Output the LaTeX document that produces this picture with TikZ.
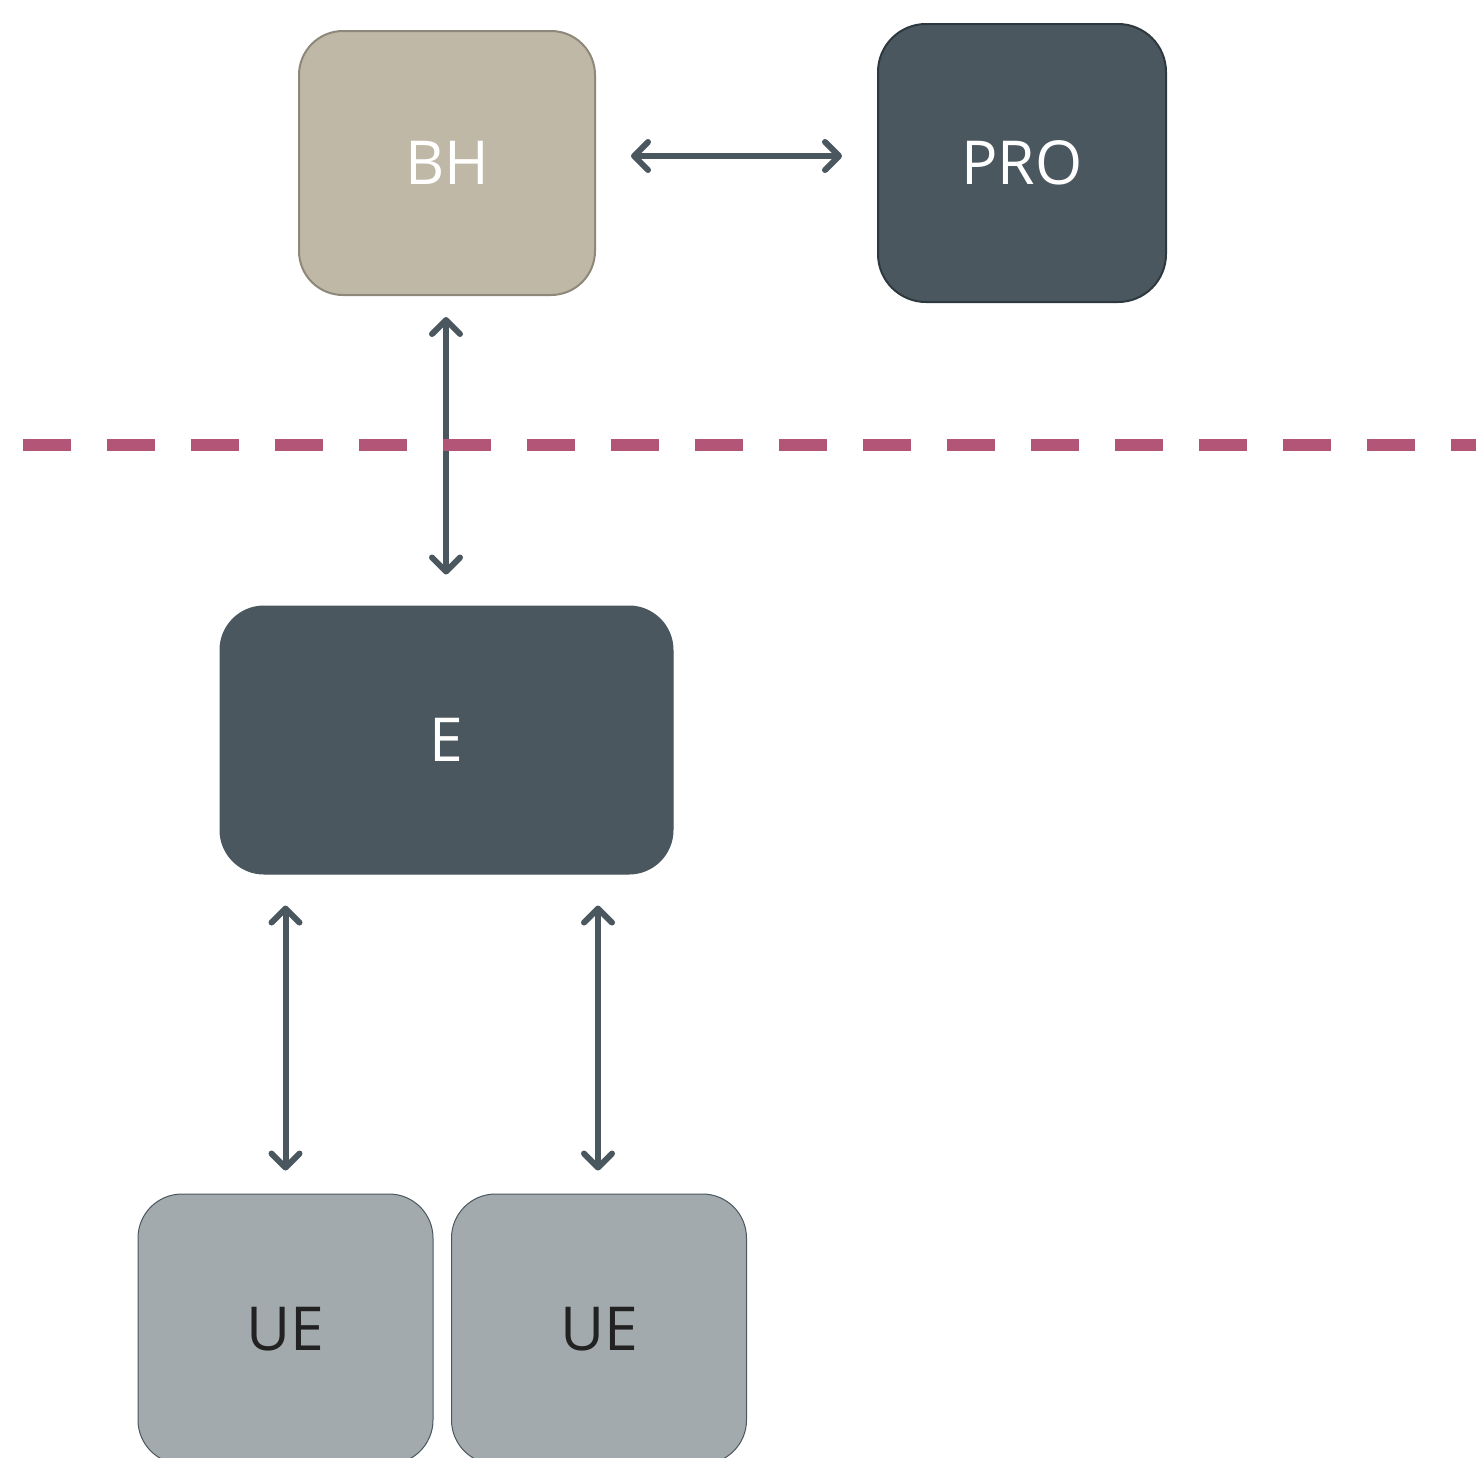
\documentclass[tikz,border=0pt]{standalone}
\usepackage{fontspec}
\setmainfont{Open Sans}
\usetikzlibrary{arrows.meta}
\definecolor{bhfill}{HTML}{C0B8A6}
\definecolor{bhdraw}{HTML}{8E887A}
\definecolor{dark}{HTML}{4A575E}
\definecolor{darkdraw}{HTML}{2E393F}
\definecolor{uefill}{HTML}{A3AAAD}
\definecolor{uetext}{HTML}{222222}
\definecolor{dashpink}{HTML}{B35577}
\tikzset{
  box/.style={rectangle, rounded corners=22pt, font=\fontsize{30.3}{36}\selectfont, inner sep=0pt},
  bhbox/.style={box, fill=bhfill, draw=bhdraw, line width=1pt, text=white, minimum width=148pt, minimum height=132pt},
  probox/.style={box, fill=dark, draw=darkdraw, line width=1pt, text=white, minimum width=144pt, minimum height=139pt, rounded corners=24pt},
  ebox/.style={box, fill=dark, draw=dark, line width=0.5pt, text=white, minimum width=226.5pt, minimum height=134pt},
  uebox/.style={box, fill=uefill, draw=dark, line width=0.5pt, text=uetext, minimum width=147.5pt, minimum height=135pt},
  biarrow/.style={draw=dark, line width=3pt, line cap=round,
    {Straight Barb[length=7pt,width=14pt,line cap=round,line join=round]}-{Straight Barb[length=7pt,width=14pt,line cap=round,line join=round]}},
  sep/.style={draw=dashpink, line width=6pt, dash pattern=on 24pt off 18pt}
}
\begin{document}
\begin{tikzpicture}[x=0.5pt,y=-0.5pt]
\useasboundingbox (0,0) rectangle (1476,1457);
\clip (0,0) rectangle (1476,1457);
\node[bhbox] (bh) at (447,163) {BH};
\node[probox] (pro) at (1022,163) {PRO};
\node[ebox] (e) at (446.5,740) {E};
\node[uebox] (ue1) at (285.5,1329) {UE};
\node[uebox] (ue2) at (599,1329) {UE};
% connectors
\draw[biarrow, shorten <=17.5pt, shorten >=17.5pt] ([yshift=3.5pt]bh.east) -- ([yshift=3.5pt]pro.west);
\draw[biarrow, shorten <=10.5pt, shorten >=15.5pt] ([xshift=-0.5pt]bh.south) -- ([xshift=-0.5pt]bh.south |- e.north);
\draw[biarrow, shorten <=15.5pt, shorten >=11.5pt] (ue1.north |- e.south) -- (ue1.north);
\draw[biarrow, shorten <=15.5pt, shorten >=11.5pt] ([xshift=-0.5pt]ue2.north |- e.south) -- ([xshift=-0.5pt]ue2.north);
% separator
\coordinate (sepL) at (23,444.5);
\coordinate (sepR) at (1500,444.5);
\draw[sep] (sepL) -- (sepR);
\end{tikzpicture}
\end{document}
